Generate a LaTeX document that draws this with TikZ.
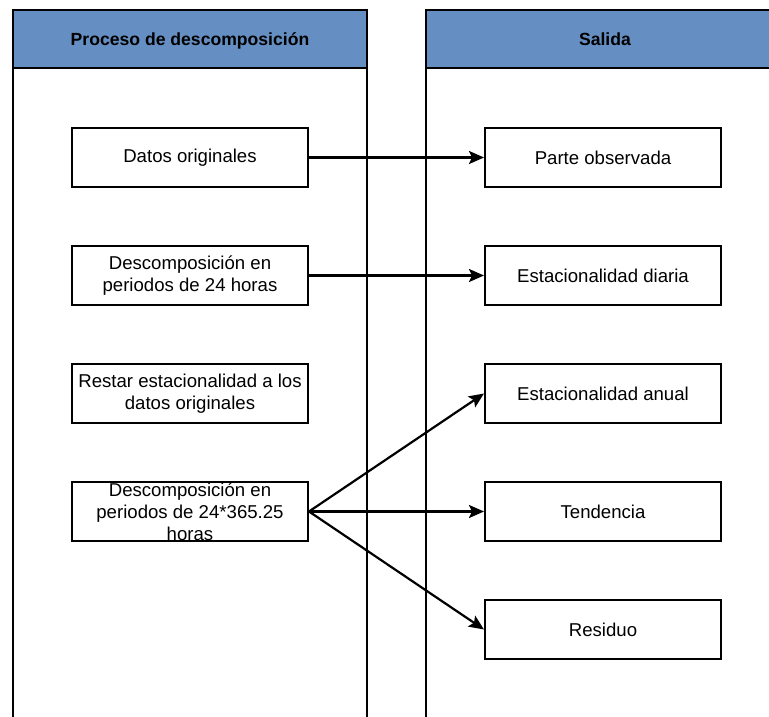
\documentclass[tikz,border=0pt]{standalone}
\usepackage{fontspec}
\setmainfont{Liberation Sans}
\usetikzlibrary{arrows.meta}
\definecolor{lanehead}{RGB}{101,143,195}
\tikzset{
  lane/.style={draw=black, line width=2pt},
  head/.style={draw=black, line width=2pt, fill=lanehead, text height=12.6pt, text depth=0pt,
    font=\bfseries\fontsize{17.6}{20}\selectfont},
  box/.style={draw=black, line width=2pt, fill=white, minimum width=236pt, minimum height=59pt,
    inner sep=0pt, align=center, font=\fontsize{18.6}{22}\selectfont},
  flow/.style={line width=2.2pt, -{Stealth[length=15pt,width=13pt,inset=3pt]}}
}
\begin{document}
\begin{tikzpicture}[x=1pt,y=-1pt]
\useasboundingbox (0,0) rectangle (769,717);
\clip (0,0) rectangle (769,717);
% lanes
\draw[lane] (13,68) -- (13,740);
\draw[lane] (367,68) -- (367,740);
\draw[lane] (426,68) -- (426,740);
\draw[lane] (784,68) -- (784,740);
\node[head, minimum width=354pt, minimum height=58pt] (hproc) at (190,39) {Proceso de descomposición};
\node[head, minimum width=358pt, minimum height=58pt] (hsal) at (605,39) {Salida};
% left column
\node[box] (datos) at (190,157.5) {Datos originales};
\node[box] (dec24) at (190,275.5) {Descomposición en\\periodos de 24 horas};
\node[box] (restar) at (190,393.5) {Restar estacionalidad a los\\datos originales};
\node[box] (decanual) at (190,511.5) {Descomposición en\\periodos de 24*365.25\\horas};
% right column
\node[box] (obs) at (603,157.5) {Parte observada};
\node[box] (diaria) at (603,275.5) {Estacionalidad diaria};
\node[box] (anual) at (603,393.5) {Estacionalidad anual};
\node[box] (tend) at (603,511.5) {Tendencia};
\node[box] (resid) at (603,629.5) {Residuo};
% arrows
\draw[flow] (datos.east) -- (obs.west);
\draw[flow] (dec24.east) -- (diaria.west);
\draw[flow] (decanual.east) -- (anual.west);
\draw[flow] (decanual.east) -- (tend.west);
\draw[flow] (decanual.east) -- (resid.west);
\end{tikzpicture}
\end{document}
